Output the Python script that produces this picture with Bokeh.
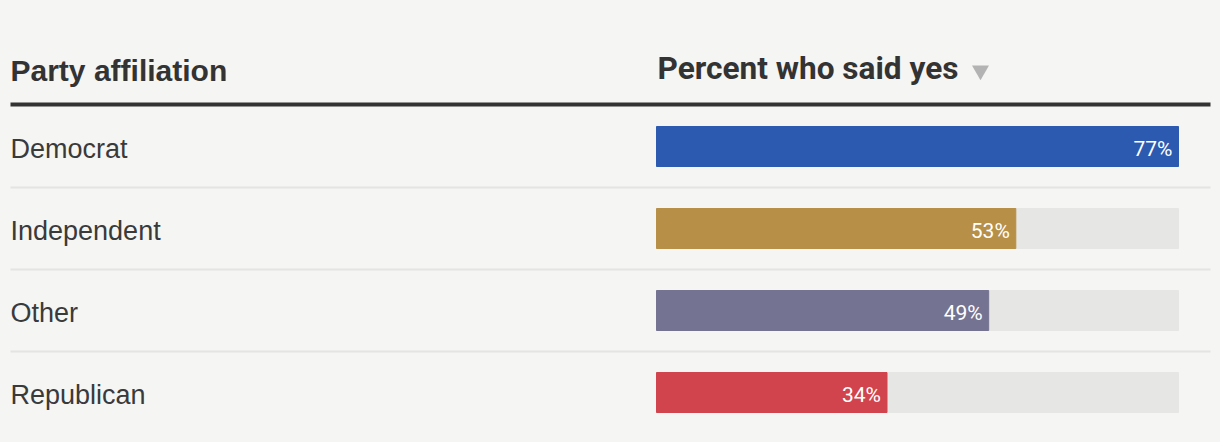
from bokeh.plotting import figure
from bokeh.models import Range1d
from bokeh.core.properties import value
from bokeh.embed import file_html
from bokeh.resources import INLINE

# ---- data ----
categories = ["Democrat", "Independent", "Other", "Republican"]
percent_yes = [77, 53, 49, 34]
bar_colors = ["#2b5ab0", "#b78f47", "#757392", "#d1434d"]
header_left = "Party affiliation"
header_right = "Percent who said yes"

# ---- layout constants (pixels, figure coords) ----
FIG_W, FIG_H = 1212, 434
BAR_LEFT_PX = 656
BAR_W_PX = 522
ROW0_PX = 146
ROW_PITCH = 82
BG = "#f5f5f3"

vmax = max(percent_yes)
px_per = BAR_W_PX / vmax


def px2x(px):
    return (px - BAR_LEFT_PX) / px_per


def px2y(py):
    return (py - ROW0_PX) / ROW_PITCH


p = figure(width=FIG_W, height=FIG_H, output_backend="svg", toolbar_location=None,
           x_range=Range1d(px2x(0), px2x(FIG_W)), y_range=Range1d(px2y(FIG_H), px2y(0)),
           min_border=0, background_fill_color=BG, border_fill_color=BG)
p.axis.visible = False
p.grid.visible = False
p.outline_line_color = None

idx = list(range(len(categories)))
bar_h = 40 / ROW_PITCH

# tracks
p.hbar(y=idx, left=0, right=[vmax] * len(idx), height=bar_h, color="#e6e6e4")
# bars
p.hbar(y=idx, left=0, right=percent_yes, height=bar_h, color=bar_colors)

# row separators
seps = [i + 0.5 for i in idx[:-1]]
p.segment(x0=[px2x(10)] * len(seps), x1=[px2x(1210)] * len(seps), y0=seps, y1=seps,
          line_color="#e4e4e2", line_width=2)

# header rule
p.segment(x0=[px2x(10)], x1=[px2x(1210)], y0=[px2y(104)], y1=[px2y(104)],
          line_color="#333333", line_width=4)

# category labels
p.text(x=[px2x(10)] * len(idx), y=idx, text=categories, text_align="left",
       text_baseline="middle", text_font=value("Liberation Sans"), text_font_size="27px",
       text_color="#3a3a3a", y_offset=2)

# value labels
p.text(x=percent_yes, y=idx, text=[f"{v}%" for v in percent_yes], text_align="right",
       text_baseline="middle", text_font=value("Roboto"), text_font_size="21px",
       text_color="white", x_offset=-6, y_offset=2)

# headers
p.text(x=[px2x(10)], y=[px2y(70)], text=[header_left], text_align="left",
       text_baseline="middle", text_font=value("Liberation Sans"), text_font_size="30px",
       text_font_style="bold", text_color="#333333")
p.text(x=[0], y=[px2y(68)], text=[header_right], text_align="left",
       text_baseline="middle", text_font=value("Roboto"), text_font_size="31.6px",
       text_font_style="bold", text_color="#333333", x_offset=1)
p.scatter(x=[px2x(980)], y=[px2y(70)], marker="inverted_triangle", size=17,
          color="#b3b3b3", line_color=None)

html = file_html(p, INLINE)
html = html.replace("<body>", f'<body style="background:{BG}">')
open("out.html", "w").write(html)
